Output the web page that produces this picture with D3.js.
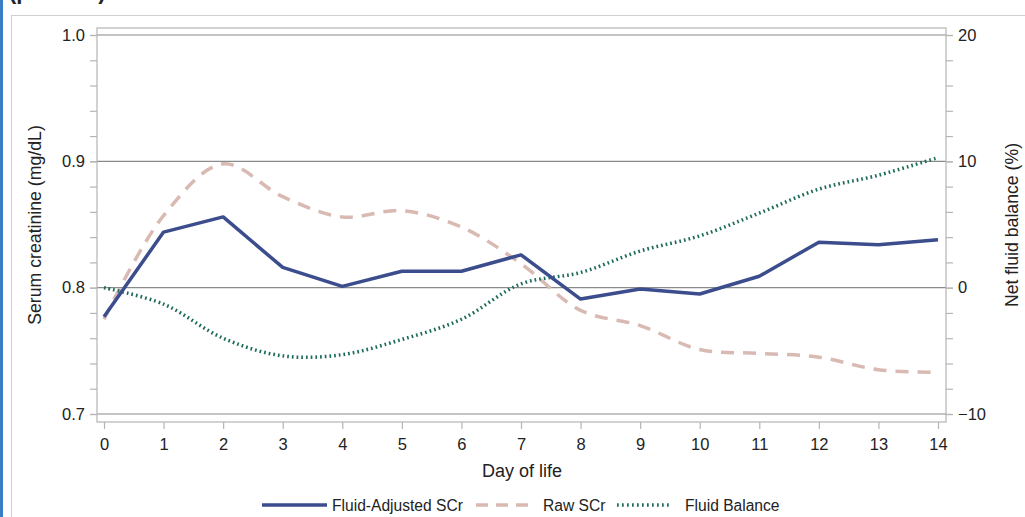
<!DOCTYPE html>
<html>
<head>
<meta charset="utf-8">
<script src="https://cdn.jsdelivr.net/npm/d3@7"></script>
<style>
  body { margin: 0; background: #fff; }
  text { font-family: "Liberation Sans", Arial, sans-serif; fill: #222; }
</style>
</head>
<body>
<script>
// data
const days = [0, 1, 2, 3, 4, 5, 6, 7, 8, 9, 10, 11, 12, 13, 14]
const adjustedScr = [0.777, 0.844, 0.856, 0.816, 0.801, 0.813, 0.813, 0.826, 0.791, 0.799, 0.795, 0.809, 0.836, 0.834, 0.838]
const rawScr = [0.775, 0.857, 0.898, 0.872, 0.856, 0.861, 0.848, 0.819, 0.782, 0.770, 0.751, 0.748, 0.745, 0.735, 0.733]
const fluidBalance = [0, -1.3, -4.0, -5.4, -5.3, -4.1, -2.5, 0.3, 1.2, 2.9, 4.1, 5.9, 7.8, 8.9, 10.3]
const leftTicks = [0.7, 0.8, 0.9, 1.0]
const rightTicks = [-10, 0, 10, 20]

// measurements
const m = { width: 1025, height: 517, left: 97, right: 946, top: 28, bottom: 422 }

const svg = d3.select('body').append('svg')
    .attr('width', m.width)
    .attr('height', m.height)

// page decorations: blue side bar, outer frame, cut-off heading
svg.append('rect').attr('x', 0).attr('y', 0).attr('width', 3).attr('height', m.height).attr('fill', '#3b7cc6')
svg.append('rect').attr('x', 11.5).attr('y', 15.5).attr('width', 1030).attr('height', 520)
    .attr('fill', 'none').attr('stroke', '#cfcfcf')
svg.append('text').attr('x', 9).attr('y', -1)
    .style('font-size', '22px').style('font-weight', 'bold')
    .text('(preterm)')

// scales
const x = d3.scaleLinear().domain([0, 14]).range([104, 938])
const yL = d3.scaleLinear().domain([0.7, 1.0]).range([414, 35])
const yR = d3.scaleLinear().domain([-10, 20]).range([414, 35])

// gridlines at major ticks
svg.append('g').selectAll('line')
    .data(leftTicks)
    .join('line')
    .attr('x1', m.left).attr('x2', m.right)
    .attr('y1', d => yL(d)).attr('y2', d => yL(d))
    .attr('stroke', '#8a8a8a').attr('stroke-width', 1.2)

// frame
svg.append('rect')
    .attr('x', m.left).attr('y', m.top)
    .attr('width', m.right - m.left).attr('height', m.bottom - m.top)
    .attr('fill', 'none').attr('stroke', '#b5b5b5').attr('stroke-width', 1.2)

// axes
function styleAxis(g) {
    g.select('.domain').remove()
    g.selectAll('line').attr('stroke', '#b5b5b5').attr('stroke-width', 1.2)
    g.selectAll('text').style('font-size', '16.5px').attr('fill', '#222')
}

const minorL = d3.range(0.7, 1.0001, 0.02)
svg.append('g')
    .attr('transform', `translate(${m.left},0)`)
    .call(d3.axisLeft(yL).tickValues(minorL).tickFormat('').tickSize(7))
    .call(styleAxis)
svg.append('g')
    .attr('transform', `translate(${m.left},0)`)
    .call(d3.axisLeft(yL).tickValues(leftTicks).tickFormat(d3.format('.1f')).tickSize(7).tickPadding(5))
    .call(styleAxis)

const minorR = d3.range(-10, 20.001, 2)
svg.append('g')
    .attr('transform', `translate(${m.right},0)`)
    .call(d3.axisRight(yR).tickValues(minorR).tickFormat('').tickSize(7))
    .call(styleAxis)
svg.append('g')
    .attr('transform', `translate(${m.right},0)`)
    .call(d3.axisRight(yR).tickValues(rightTicks).tickSize(7).tickPadding(5))
    .call(styleAxis)

svg.append('g')
    .attr('transform', `translate(0,${m.bottom})`)
    .call(d3.axisBottom(x).tickValues(days).tickSize(7).tickPadding(9))
    .call(styleAxis)

// lines
const rows = days.map((d, i) => ({ day: d, adj: adjustedScr[i], raw: rawScr[i], fb: fluidBalance[i] }))

svg.append('path')
    .datum(rows)
    .attr('fill', 'none')
    .attr('stroke', '#d9bab3')
    .attr('stroke-width', 3.5)
    .attr('stroke-dasharray', '13,9')
    .attr('d', d3.line().curve(d3.curveCatmullRom.alpha(0.5)).x(d => x(d.day)).y(d => yL(d.raw)))

svg.append('path')
    .datum(rows)
    .attr('fill', 'none')
    .attr('stroke', '#1d6b5b')
    .attr('stroke-width', 3.5)
    .attr('stroke-dasharray', '1.7,3')
    .attr('d', d3.line().curve(d3.curveCatmullRom.alpha(0.5)).x(d => x(d.day)).y(d => yR(d.fb)))

svg.append('path')
    .datum(rows)
    .attr('fill', 'none')
    .attr('stroke', '#3c4d8e')
    .attr('stroke-width', 3.5)
    .attr('stroke-linejoin', 'round')
    .attr('d', d3.line().x(d => x(d.day)).y(d => yL(d.adj)))

// axis labels
svg.append('text')
    .attr('x', 522).attr('y', 477)
    .attr('text-anchor', 'middle')
    .style('font-size', '18px')
    .text('Day of life')

svg.append('text')
    .attr('transform', `translate(41,225)rotate(-90)`)
    .attr('text-anchor', 'middle')
    .style('font-size', '17.7px')
    .text('Serum creatinine (mg/dL)')

svg.append('text')
    .attr('transform', `translate(1018,225)rotate(-90)`)
    .attr('text-anchor', 'middle')
    .style('font-size', '17.7px')
    .text('Net fluid balance (%)')

// legend
const legend = [
    { label: 'Fluid-Adjusted SCr', x1: 262, x2: 327, tx: 332, color: '#3c4d8e', dash: null },
    { label: 'Raw SCr', x1: 476, x2: 528, tx: 543, color: '#d9bab3', dash: '12,8' },
    { label: 'Fluid Balance', x1: 617, x2: 672, tx: 685, color: '#1d6b5b', dash: '1.7,3.3' }
]
const lg = svg.append('g')
legend.forEach(l => {
    lg.append('line')
        .attr('x1', l.x1).attr('x2', l.x2).attr('y1', 505).attr('y2', 505)
        .attr('stroke', l.color).attr('stroke-width', 3.5)
        .attr('stroke-dasharray', l.dash)
    lg.append('text')
        .attr('x', l.tx).attr('y', 511)
        .style('font-size', '15.6px')
        .text(l.label)
})
</script>
</body>
</html>
